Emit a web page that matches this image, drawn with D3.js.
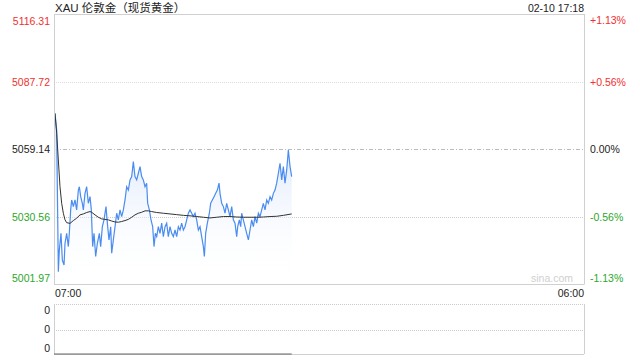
<!DOCTYPE html>
<html>
<head>
<meta charset="utf-8">
<script src="https://cdn.jsdelivr.net/npm/d3@7/dist/d3.min.js"></script>
<style>
  body { margin: 0; background: #fff; }
  text { font-family: "Liberation Sans", Arial, "Noto Sans CJK SC", sans-serif; }
</style>
</head>
<body>
<svg id="chart" width="640" height="360"></svg>
<script>
//======== data ========//
var title = 'XAU 伦敦金（现货黄金）',
  stamp = '02-10 17:18',
  prevClose = 5059.14;

var priceTicks = [5116.31, 5087.72, 5059.14, 5030.56, 5001.97];
var pctTicks = ['+1.13%', '+0.56%', '0.00%', '-0.56%', '-1.13%'];
var timeTicks = ['07:00', '06:00'];
var volTicks = ['0', '0', '0'];

// minutes since 07:00 and price
var minutes = [2.6, 5.2, 7.0, 11.3, 13.9, 18.2, 21.7, 26.1, 28.7, 33.0, 37.3, 39.9, 43.4, 46.0, 50.4, 54.7, 59.0,
  63.4, 66.0, 69.5, 73.8, 76.4, 80.7, 85.1, 89.4, 93.8, 97.2, 100.7, 104.2, 108.5, 112.9, 118.1, 121.5,
  125.9, 130.2, 135.4, 138.9, 143.2, 147.6, 150.2, 154.5, 158.9, 163.2, 167.5, 171.9, 176.2, 180.6,
  184.9, 189.2, 193.6, 197.9, 202.3, 206.6, 210.9, 215.3, 219.6, 224.0, 228.3, 232.6, 237.0, 241.3,
  243.9, 248.3, 252.6, 256.9, 260.4, 263.9, 267.4, 271.7, 276.0, 280.4, 284.7, 289.1, 293.4, 297.7,
  302.1, 306.4, 310.8, 315.1, 319.4, 323.8, 328.1, 332.5, 336.8, 341.1, 345.5, 349.8, 354.2, 358.5,
  362.8, 367.2, 371.5, 375.9, 380.2, 384.5, 388.9, 391.5, 394.9, 399.3, 404.5, 408.0, 412.3, 416.7,
  421.0, 425.3, 429.7, 432.3, 436.6, 441.0, 445.3, 449.6, 454.0, 458.3, 462.7, 467.0, 471.3, 475.7,
  478.3, 482.6, 486.1, 488.7, 493.0, 497.4, 501.7, 506.1, 510.4, 514.7, 519.1, 523.4, 527.8, 532.1,
  536.4, 540.8, 545.1, 549.5, 553.8, 558.1, 562.5, 566.8, 571.2, 575.5, 579.8, 584.2, 588.5, 592.9,
  597.2, 601.5, 605.9, 610.2, 614.6, 618.9];
var prices = [5074.3, 5070.1, 5067.3, 5007.4, 5016.6, 5023.6, 5012.3, 5010.2, 5019.4, 5023.6, 5018.0, 5023.6, 5033.5, 5037.7, 5034.9, 5037.7, 5033.5,
  5041.9, 5043.3, 5039.1, 5036.3, 5033.5, 5040.5, 5043.3, 5036.3, 5039.1, 5033.5, 5018.0, 5023.6, 5013.8, 5019.4, 5023.6, 5018.0,
  5026.4, 5029.3, 5034.9, 5027.9, 5020.8, 5026.4, 5015.2, 5020.8, 5026.4, 5032.1, 5029.3, 5033.5, 5030.7, 5033.5,
  5037.7, 5043.3, 5041.9, 5046.2, 5047.6, 5053.9, 5047.6, 5046.2, 5049.0, 5051.8, 5047.6, 5046.2, 5043.3, 5044.8,
  5036.3, 5033.5, 5029.3, 5026.4, 5018.0, 5023.6, 5022.2, 5026.4, 5023.6, 5027.9, 5022.2, 5026.4, 5027.9, 5022.2,
  5026.4, 5023.6, 5022.2, 5025.0, 5022.2, 5026.4, 5025.0, 5027.9, 5025.0, 5026.4, 5029.3, 5032.1, 5033.5, 5032.1,
  5030.7, 5032.1, 5029.3, 5025.0, 5026.4, 5022.2, 5018.0, 5013.8, 5023.6, 5027.9, 5032.1, 5036.3, 5037.7, 5039.1,
  5040.5, 5041.9, 5044.8, 5040.5, 5036.3, 5034.9, 5032.1, 5036.3, 5033.5, 5030.7, 5034.9, 5029.3, 5027.9, 5022.2,
  5026.4, 5029.3, 5026.4, 5032.1, 5029.3, 5026.4, 5023.6, 5020.8, 5025.0, 5029.3, 5026.4, 5030.7, 5027.9, 5032.1,
  5030.7, 5033.5, 5036.3, 5033.5, 5037.7, 5036.3, 5039.1, 5037.7, 5040.5, 5041.9, 5044.8, 5049.0, 5053.2, 5046.2,
  5051.8, 5044.8, 5050.4, 5058.8, 5051.8, 5047.6];

// average price line
var avgMinutes = [2.6, 7.0, 11.3, 15.6, 20.0, 24.3, 28.7, 33.0, 41.7, 50.4, 59.0, 67.7, 76.4, 85.1, 93.8, 98.1,
  106.8, 115.5, 124.1, 132.8, 141.5, 150.2, 158.9, 167.5, 176.2, 184.9, 193.6, 202.3, 210.9, 219.6, 228.3,
  237.0, 245.7, 254.3, 267.4, 284.7, 302.1, 319.4, 336.8, 354.2, 371.5, 388.9, 406.2, 423.6, 441.0, 458.3,
  475.7, 493.0, 510.4, 527.8, 545.1, 562.5, 579.8, 597.2, 618.9];
var avgPrices = [5074.3, 5065.9, 5054.6, 5043.3, 5036.3, 5032.1, 5029.3, 5028.1, 5027.8, 5029.0, 5030.0, 5031.4, 5031.8, 5032.4, 5032.8, 5032.5,
  5031.4, 5030.4, 5029.7, 5029.5, 5029.3, 5028.8, 5028.4, 5028.3, 5028.6, 5029.0, 5029.5, 5030.4, 5031.4, 5032.1, 5032.5,
  5033.1, 5033.1, 5032.8, 5032.4, 5032.1, 5031.8, 5031.5, 5031.2, 5031.0, 5030.7, 5030.4, 5030.1, 5030.4, 5030.7, 5030.7,
  5030.5, 5030.4, 5030.4, 5030.4, 5030.5, 5030.7, 5030.8, 5031.2, 5031.8];

//======== layout ========//
var red = '#f03030', green = '#2aa82a', dark = '#222';
var plotL = 54, plotR = 584, plotT = 14, plotB = 284.5;
var volTop = 304, volBottom = 354;

var svg = d3.select('#chart');

var x = d3.scaleLinear().domain([0, 1380]).range([plotL, plotR]);
var y = d3.scaleLinear().domain([priceTicks[4], priceTicks[0]]).range([plotB, plotT]);

function tickColor(v) {
  if (v > prevClose + 0.001) return red;
  if (v < prevClose - 0.001) return green;
  return dark;
}

// gradient fill
var defs = svg.append('defs');
var grad = defs.append('linearGradient')
  .attr('id', 'fill')
  .attr('gradientUnits', 'userSpaceOnUse')
  .attr('x1', 0).attr('x2', 0)
  .attr('y1', y(priceTicks[2])).attr('y2', plotB);
grad.append('stop').attr('offset', '0%').attr('stop-color', '#dce8fb').attr('stop-opacity', 0.9);
grad.append('stop').attr('offset', '100%').attr('stop-color', '#ffffff').attr('stop-opacity', 0);

// grid lines
svg.append('line')
  .attr('x1', plotL).attr('x2', plotR)
  .attr('y1', Math.round(y(priceTicks[1])) + 0.5).attr('y2', Math.round(y(priceTicks[1])) + 0.5)
  .attr('stroke', '#ddd').attr('stroke-dasharray', '1,1');
svg.append('line')
  .attr('x1', plotL).attr('x2', plotR)
  .attr('y1', Math.round(y(priceTicks[2])) + 0.5).attr('y2', Math.round(y(priceTicks[2])) + 0.5)
  .attr('stroke', '#bbb').attr('stroke-dasharray', '4,2,1,2');
svg.append('line')
  .attr('x1', plotL).attr('x2', plotR)
  .attr('y1', Math.round(y(priceTicks[3])) + 0.5).attr('y2', Math.round(y(priceTicks[3])) + 0.5)
  .attr('stroke', '#ccc').attr('stroke-dasharray', '1,1');

var pts = minutes.map(function(m, i) { return {t: m, v: prices[i]}; });
var avgPts = avgMinutes.map(function(m, i) { return {t: m, v: avgPrices[i]}; });

var area = d3.area()
  .x(function(d) { return x(d.t); })
  .y0(plotB)
  .y1(function(d) { return y(d.v); });

var line = d3.line()
  .x(function(d) { return x(d.t); })
  .y(function(d) { return y(d.v); });

svg.append('path')
  .datum(pts)
  .attr('d', area)
  .attr('fill', 'url(#fill)');

svg.append('path')
  .datum(pts)
  .attr('d', line)
  .attr('fill', 'none')
  .attr('stroke', '#4a8cf0')
  .attr('stroke-width', 1.2);

svg.append('path')
  .datum(avgPts)
  .attr('d', line)
  .attr('fill', 'none')
  .attr('stroke', '#333')
  .attr('stroke-width', 1);

// frame
svg.append('path')
  .attr('d', 'M' + (plotL + 0.5) + ',' + plotT + 'V' + plotB + 'M' + (plotR + 0.5) + ',' + plotT + 'V' + plotB +
    'M' + plotL + ',' + (plotT + 0.5) + 'H' + plotR + 'M' + plotL + ',' + (Math.round(plotB) - 0.5) + 'H' + plotR)
  .attr('stroke', '#d0d0d0')
  .attr('fill', 'none');

// left price axis
var yAxisL = svg.append('g')
  .attr('transform', 'translate(' + (plotL - 4) + ',0)')
  .call(d3.axisLeft(y).tickValues(priceTicks).tickSize(0).tickPadding(0).tickFormat(d3.format('.2f')));
yAxisL.select('.domain').remove();
yAxisL.selectAll('text')
  .style('font-size', '10.5px')
  .attr('fill', function(d) { return tickColor(d); })
  .attr('dy', function(d, i) { return i === 0 ? '1.0em' : (i === 4 ? '-0.25em' : '0.32em'); });

// right percent axis
var yAxisR = svg.append('g')
  .attr('transform', 'translate(' + (plotR + 6) + ',0)')
  .call(d3.axisRight(y).tickValues(priceTicks).tickSize(0).tickPadding(0)
    .tickFormat(function(d, i) { return pctTicks[i]; }));
yAxisR.select('.domain').remove();
yAxisR.selectAll('text')
  .style('font-size', '10.5px')
  .attr('fill', function(d) { return tickColor(d); })
  .attr('dy', function(d, i) { return i === 0 ? '0.95em' : (i === 4 ? '-0.25em' : '0.32em'); });

// title + timestamp
svg.append('text')
  .attr('x', plotL + 1).attr('y', 12)
  .style('font-size', '11.5px')
  .attr('fill', dark)
  .text(title);
svg.append('text')
  .attr('x', plotR).attr('y', 11.5)
  .attr('text-anchor', 'end')
  .style('font-size', '10.5px')
  .attr('fill', dark)
  .text(stamp);

// watermark
svg.append('text')
  .attr('x', 573).attr('y', 281.5)
  .attr('text-anchor', 'end')
  .style('font-size', '10.5px')
  .attr('fill', '#cfcfcf')
  .text('sina.com');

// time axis labels
svg.append('text')
  .attr('x', plotL + 1).attr('y', 297)
  .style('font-size', '10.5px')
  .attr('fill', dark)
  .text(timeTicks[0]);
svg.append('text')
  .attr('x', plotR).attr('y', 297)
  .attr('text-anchor', 'end')
  .style('font-size', '10.5px')
  .attr('fill', dark)
  .text(timeTicks[1]);

// volume panel (all zero)
var volY = d3.scalePoint().domain([0, 1, 2]).range([310, 348]);
[volTop, 330].forEach(function(yy) {
  svg.append('line')
    .attr('x1', plotL).attr('x2', plotR)
    .attr('y1', yy + 0.5).attr('y2', yy + 0.5)
    .attr('stroke', '#ccc').attr('stroke-dasharray', '1,1');
});
svg.append('path')
  .attr('d', 'M' + (plotL + 0.5) + ',' + volTop + 'V' + volBottom + 'M' + (plotR + 0.5) + ',' + volTop + 'V' + volBottom +
    'M' + plotL + ',' + (volBottom + 0.5) + 'H' + plotR)
  .attr('stroke', '#d0d0d0')
  .attr('fill', 'none');
svg.append('line')
  .attr('x1', plotL).attr('x2', x(minutes[minutes.length - 1]))
  .attr('y1', volBottom).attr('y2', volBottom)
  .attr('stroke', '#666').attr('stroke-width', 1);

svg.selectAll('.vol-label')
  .data(volTicks)
  .enter().append('text')
  .attr('class', 'vol-label')
  .attr('x', 50)
  .attr('y', function(d, i) { return volY(i); })
  .attr('dy', '0.35em')
  .attr('text-anchor', 'end')
  .style('font-size', '10.5px')
  .attr('fill', dark)
  .text(function(d) { return d; });
</script>
</body>
</html>
